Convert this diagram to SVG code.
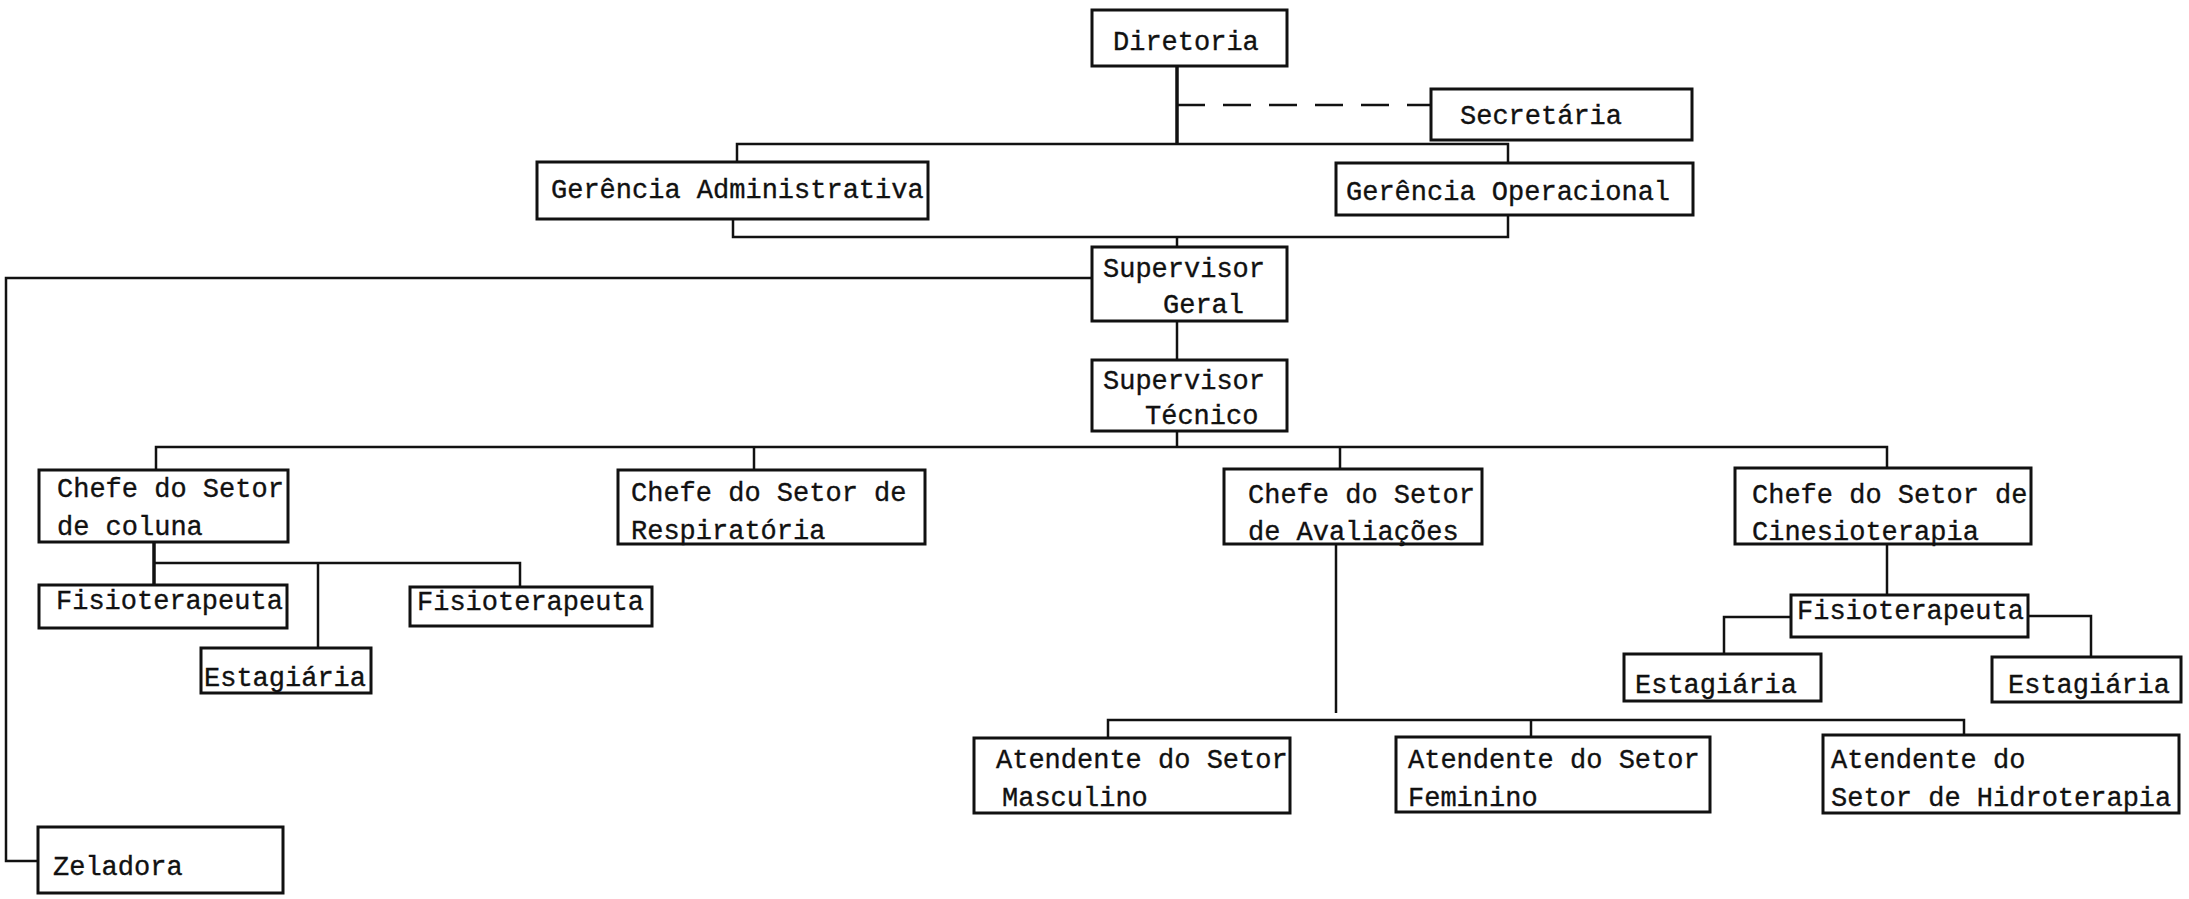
<svg xmlns="http://www.w3.org/2000/svg" width="2189" height="899" viewBox="0 0 2189 899">
<style>
.box{fill:#fff;stroke:#111;stroke-width:3}
.t{font-family:"Liberation Mono","Courier New",monospace;font-size:27px;fill:#111;stroke:#111;stroke-width:0.35}
.c{fill:none;stroke:#111;stroke-width:2.5}
.ct{fill:none;stroke:#111;stroke-width:3.5}
.d{fill:none;stroke:#111;stroke-width:2.5;stroke-dasharray:28 18}
</style>
<rect width="2189" height="899" fill="#fff"/>
<g id="connectors">
<path class="ct" d="M1177 66V144"/>
<path class="d" d="M1177 105H1431"/>
<path class="c" d="M737 162V144H1508V163"/>
<path class="c" d="M733 219V237H1508V215"/>
<path class="c" d="M1177 237V247"/>
<path class="c" d="M1092 278H6V861H39"/>
<path class="c" d="M1177 321V360"/>
<path class="c" d="M1177 431V447"/>
<path class="c" d="M156 472V447H1887V472"/>
<path class="c" d="M754 447V470"/>
<path class="c" d="M1340 447V470"/>
<path class="ct" d="M154 542V585"/>
<path class="c" d="M154 563H520V587"/>
<path class="c" d="M318 563V648"/>
<path class="c" d="M1336 543V713"/>
<path class="c" d="M1108 738V720H1964V735"/>
<path class="c" d="M1531 720V737"/>
<path class="c" d="M1887 543V596"/>
<path class="c" d="M1791 617H1724V654"/>
<path class="c" d="M2028 616H2091V657"/>
</g>
<g id="diretoria"><rect class="box" x="1092" y="10" width="195" height="56"/><text class="t" x="1113" y="50">Diretoria</text></g>
<g id="secretaria"><rect class="box" x="1431" y="89" width="261" height="51"/><text class="t" x="1460" y="124">Secretária</text></g>
<g id="gerencia-adm"><rect class="box" x="537" y="162" width="391" height="57"/><text class="t" x="551" y="198">Gerência Administrativa</text></g>
<g id="gerencia-op"><rect class="box" x="1336" y="163" width="357" height="52"/><text class="t" x="1346" y="200">Gerência Operacional</text></g>
<g id="supervisor-geral"><rect class="box" x="1092" y="247" width="195" height="74"/><text class="t" x="1103" y="277">Supervisor</text><text class="t" x="1163" y="313">Geral</text></g>
<g id="supervisor-tecnico"><rect class="box" x="1092" y="360" width="195" height="71"/><text class="t" x="1103" y="389">Supervisor</text><text class="t" x="1145" y="424">Técnico</text></g>
<g id="chefe-coluna"><rect class="box" x="39" y="470" width="249" height="72"/><text class="t" x="57" y="497">Chefe do Setor</text><text class="t" x="57" y="535">de coluna</text></g>
<g id="chefe-respiratoria"><rect class="box" x="618" y="470" width="307" height="74"/><text class="t" x="631" y="501">Chefe do Setor de</text><text class="t" x="631" y="539">Respiratória</text></g>
<g id="chefe-avaliacoes"><rect class="box" x="1224" y="469" width="258" height="75"/><text class="t" x="1248" y="503">Chefe do Setor</text><text class="t" x="1248" y="540">de Avaliações</text></g>
<g id="chefe-cinesioterapia"><rect class="box" x="1735" y="468" width="296" height="76"/><text class="t" x="1752" y="503">Chefe do Setor de</text><text class="t" x="1752" y="540">Cinesioterapia</text></g>
<g id="fisio-1"><rect class="box" x="39" y="585" width="248" height="43"/><text class="t" x="56" y="609">Fisioterapeuta</text></g>
<g id="fisio-2"><rect class="box" x="410" y="587" width="242" height="39"/><text class="t" x="417" y="610">Fisioterapeuta</text></g>
<g id="estagiaria-1"><rect class="box" x="201" y="648" width="170" height="45"/><text class="t" x="204" y="686">Estagiária</text></g>
<g id="fisio-3"><rect class="box" x="1791" y="595" width="237" height="42"/><text class="t" x="1797" y="619">Fisioterapeuta</text></g>
<g id="estagiaria-2"><rect class="box" x="1624" y="654" width="197" height="47"/><text class="t" x="1635" y="693">Estagiária</text></g>
<g id="estagiaria-3"><rect class="box" x="1992" y="657" width="189" height="45"/><text class="t" x="2008" y="693">Estagiária</text></g>
<g id="atendente-masculino"><rect class="box" x="974" y="738" width="316" height="75"/><text class="t" x="996" y="768">Atendente do Setor</text><text class="t" x="1002" y="806">Masculino</text></g>
<g id="atendente-feminino"><rect class="box" x="1396" y="737" width="314" height="75"/><text class="t" x="1408" y="768">Atendente do Setor</text><text class="t" x="1408" y="806">Feminino</text></g>
<g id="atendente-hidroterapia"><rect class="box" x="1823" y="735" width="356" height="78"/><text class="t" x="1831" y="768">Atendente do</text><text class="t" x="1831" y="806">Setor de Hidroterapia</text></g>
<g id="zeladora"><rect class="box" x="38" y="827" width="245" height="66"/><text class="t" x="53" y="875">Zeladora</text></g>
</svg>
